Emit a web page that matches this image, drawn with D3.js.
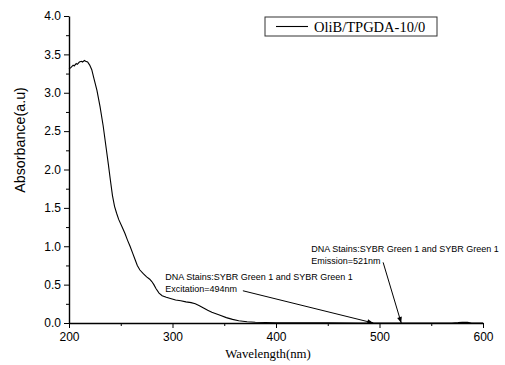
<!DOCTYPE html>
<html>
<head>
<meta charset="utf-8">
<script src="https://cdn.jsdelivr.net/npm/d3@7"></script>
<style>
  body { margin: 0; background: #fff; }
  svg { display: block; }
  .tick text { font-family: "Liberation Sans", Arial, sans-serif; font-size: 12px; fill: #000; }
  .axis path, .axis line { stroke: #000; }
  .serif { font-family: "Liberation Serif", "Times New Roman", Times, serif; font-weight: 400; }
</style>
</head>
<body>
<div id="chart"></div>
<script>
// spectrum
const wavelength = [200, 202, 204, 205, 207, 208, 210, 212, 213, 215, 216, 218, 220, 222, 224, 227, 230, 233,
  236, 238, 240, 242, 244, 246, 248, 251, 254, 256.5, 259, 261.5, 264, 266, 268.5, 272, 275, 278, 280, 282,
  284, 287, 290, 294, 298, 303, 308, 313, 318, 322, 326, 330, 334, 338, 342, 346, 352, 358, 364, 372, 380,
  390, 400, 420, 450, 480, 570, 576, 580, 585, 589, 600];
const absorbance = [3.31, 3.33, 3.36, 3.35, 3.38, 3.37, 3.40, 3.41, 3.40, 3.42, 3.41, 3.40, 3.36, 3.30, 3.19, 3.03, 2.82, 2.57,
  2.27, 2.07, 1.86, 1.66, 1.52, 1.43, 1.35, 1.26, 1.17, 1.08, 1.0, 0.91, 0.82, 0.75, 0.69, 0.64, 0.60, 0.57, 0.54, 0.50,
  0.45, 0.39, 0.355, 0.335, 0.32, 0.30, 0.29, 0.275, 0.265, 0.25, 0.225, 0.195, 0.165, 0.14, 0.12, 0.10, 0.07, 0.047, 0.03, 0.016, 0.01,
  0.006, 0.004, 0.002, 0.001, 0, 0, 0.005, 0.01, 0.008, 0, 0];

const seriesName = 'OliB/TPGDA-10/0';
const xTitle = 'Wavelength(nm)';
const yTitle = 'Absorbance(a.u)';
const xTicks = [200, 300, 400, 500, 600];
const yTicks = [0, 0.5, 1.0, 1.5, 2.0, 2.5, 3.0, 3.5, 4.0];

// annotations: text anchor and arrow from/to, in data units
const notes = [
  { lines: ['DNA Stains:SYBR Green 1 and SYBR Green 1', 'Excitation=494nm'], at: [293, 0.56],
    from: [368, 0.42], to: [494, 0.0] },
  { lines: ['DNA Stains:SYBR Green 1 and SYBR Green 1', 'Emission=521nm'], at: [434, 0.92],
    from: [503.5, 0.79], to: [521, 0.0] },
];

const width = 505, height = 365;
const margin = { top: 16, right: 22, bottom: 42, left: 69 };

const svg = d3.select('#chart').append('svg')
  .attr('width', width)
  .attr('height', height);

const x = d3.scaleLinear().domain([200, 600]).range([margin.left, width - margin.right]);
const y = d3.scaleLinear().domain([0, 4]).range([height - margin.bottom, margin.top]);

svg.append('defs').append('marker')
  .attr('id', 'head')
  .attr('viewBox', '0 0 10 10')
  .attr('refX', 10).attr('refY', 5)
  .attr('markerWidth', 9).attr('markerHeight', 6)
  .attr('markerUnits', 'userSpaceOnUse')
  .attr('orient', 'auto')
  .append('path').attr('d', 'M0,1 L10,5 L0,9 Z').attr('fill', '#000');

// minor ticks first so major ones sit on top
svg.append('g').attr('class', 'axis')
  .attr('transform', `translate(0,${y(0)})`)
  .call(d3.axisBottom(x).tickValues(d3.range(250, 600, 100)).tickSize(3).tickFormat(''))
  .call(g => g.select('.domain').remove());
svg.append('g').attr('class', 'axis')
  .attr('transform', `translate(${x(200)},0)`)
  .call(d3.axisLeft(y).tickValues(d3.range(0.25, 4, 0.5)).tickSize(3).tickFormat(''))
  .call(g => g.select('.domain').remove());

const xAxis = svg.append('g').attr('class', 'axis')
  .attr('transform', `translate(0,${y(0)})`)
  .call(d3.axisBottom(x).tickValues(xTicks).tickSize(5).tickSizeOuter(0).tickPadding(4).tickFormat(d3.format('d')));
xAxis.select('.domain').attr('stroke-width', 1.4);

const yAxis = svg.append('g').attr('class', 'axis')
  .attr('transform', `translate(${x(200)},0)`)
  .call(d3.axisLeft(y).tickValues(yTicks).tickSize(5).tickSizeOuter(0).tickPadding(3).tickFormat(d3.format('.1f')));
yAxis.select('.domain').attr('stroke-width', 1.4);

svg.append('text')
  .attr('class', 'serif')
  .attr('x', 268)
  .attr('y', 358)
  .attr('text-anchor', 'middle')
  .attr('font-size', '12.8px')
  .text(xTitle);

svg.append('text')
  .attr('transform', 'translate(25,140) rotate(-90)')
  .attr('text-anchor', 'middle')
  .attr('font-family', '"Liberation Sans", Arial, sans-serif')
  .attr('font-size', '14.3px')
  .text(yTitle);

const line = d3.line()
  .x((d, i) => x(wavelength[i]))
  .y(d => y(d));

svg.append('path')
  .datum(absorbance)
  .attr('fill', 'none')
  .attr('stroke', '#000')
  .attr('stroke-width', 1.1)
  .attr('d', line);

// annotations
const ann = svg.selectAll('.note').data(notes).enter().append('g').attr('class', 'note');
ann.append('text')
  .attr('x', d => x(d.at[0]))
  .attr('y', d => y(d.at[1]))
  .attr('font-family', '"Liberation Sans", Arial, sans-serif')
  .attr('font-size', '9px')
  .selectAll('tspan').data(d => d.lines).enter().append('tspan')
  .attr('x', function () { return this.parentNode.getAttribute('x'); })
  .attr('dy', (d, i) => i ? 11.5 : 0)
  .text(d => d);
ann.append('line')
  .attr('x1', d => x(d.from[0])).attr('y1', d => y(d.from[1]))
  .attr('x2', d => x(d.to[0])).attr('y2', d => y(d.to[1]))
  .attr('stroke', '#000')
  .attr('stroke-width', 1)
  .attr('marker-end', 'url(#head)');

// legend
const lg = svg.append('g').attr('transform', 'translate(265,17)');
lg.append('rect').attr('width', 172).attr('height', 19)
  .attr('fill', '#fff').attr('stroke', '#333').attr('stroke-width', 1);
lg.append('line').attr('x1', 11).attr('x2', 43).attr('y1', 9.5).attr('y2', 9.5)
  .attr('stroke', '#000').attr('stroke-width', 1.1);
lg.append('text').attr('class', 'serif').attr('x', 49).attr('y', 15)
  .attr('font-size', '14.5px')
  .text(seriesName);
</script>
</body>
</html>
